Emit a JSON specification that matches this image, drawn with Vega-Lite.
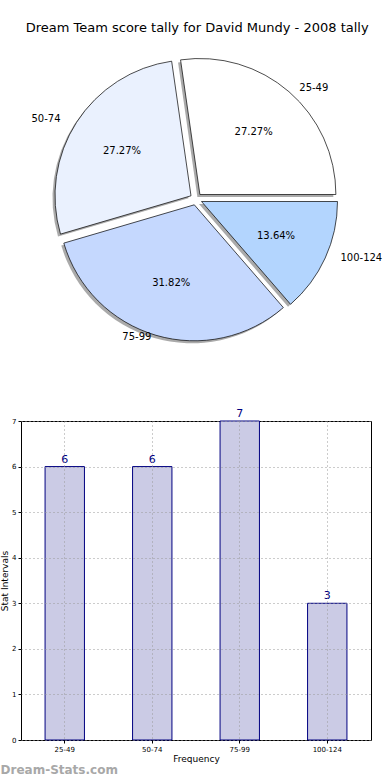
{
  "$schema": "https://vega.github.io/schema/vega-lite/v6.json",
  "padding": {"left": 0, "top": 22, "right": 0, "bottom": 0},
  "background": "white",
  "title": {"text": "Dream Team score tally for David Mundy - 2008 tally", "fontSize": 13, "font": "DejaVu Sans", "fontWeight": "normal", "anchor": "middle", "offset": 22, "dx": 6, "color": "black"},
  "config": {"font": "DejaVu Sans", "view": {"stroke": null}},
  "datasets": {
    "tally": [
      {"idx": 1, "range": "25-49", "count": 6, "pct": "27.27%"},
      {"idx": 2, "range": "50-74", "count": 6, "pct": "27.27%"},
      {"idx": 3, "range": "75-99", "count": 7, "pct": "31.82%"},
      {"idx": 4, "range": "100-124", "count": 3, "pct": "13.64%"}
    ]
  },
  "spacing": 60,
  "vconcat": [
    {
      "width": 350,
      "height": 280,
      "view": {"stroke": null},
      "data": {"name": "tally"},
      "transform": [
        {"stack": "count", "groupby": [], "sort": [{"field": "idx", "order": "descending"}], "as": ["t0", "t1"]}
      ],
      "layer": [
        {"transform": [{"filter": "datum.idx == 1"}],
         "mark": {"type": "arc", "outerRadius": 136, "xOffset": 1.4, "yOffset": -2, "fill": "#555555", "opacity": 0.5},
         "encoding": {"theta": {"field": "t0", "type": "quantitative", "scale": {"range": [1.5708, 7.854]}}, "theta2": {"field": "t1"}}},
        {"transform": [{"filter": "datum.idx == 2"}],
         "mark": {"type": "arc", "outerRadius": 136, "xOffset": -7.5, "yOffset": -0.7, "fill": "#555555", "opacity": 0.5},
         "encoding": {"theta": {"field": "t0", "type": "quantitative"}, "theta2": {"field": "t1"}}},
        {"transform": [{"filter": "datum.idx == 3"}],
         "mark": {"type": "arc", "outerRadius": 136, "xOffset": -4.2, "yOffset": 8.3, "fill": "#555555", "opacity": 0.5},
         "encoding": {"theta": {"field": "t0", "type": "quantitative"}, "theta2": {"field": "t1"}}},
        {"transform": [{"filter": "datum.idx == 4"}],
         "mark": {"type": "arc", "outerRadius": 136, "xOffset": 3.0, "yOffset": 5.0, "fill": "#555555", "opacity": 0.5},
         "encoding": {"theta": {"field": "t0", "type": "quantitative"}, "theta2": {"field": "t1"}}},
        {"transform": [{"filter": "datum.idx == 1"}],
         "mark": {"type": "arc", "outerRadius": 136, "xOffset": 3.9, "yOffset": -4.5, "fill": "#ffffff", "stroke": "black", "strokeWidth": 0.7},
         "encoding": {"theta": {"field": "t0", "type": "quantitative"}, "theta2": {"field": "t1"}}},
        {"transform": [{"filter": "datum.idx == 2"}],
         "mark": {"type": "arc", "outerRadius": 136, "xOffset": -5.0, "yOffset": -3.2, "fill": "#eaf1fe", "stroke": "black", "strokeWidth": 0.7},
         "encoding": {"theta": {"field": "t0", "type": "quantitative"}, "theta2": {"field": "t1"}}},
        {"transform": [{"filter": "datum.idx == 3"}],
         "mark": {"type": "arc", "outerRadius": 136, "xOffset": -1.7, "yOffset": 5.8, "fill": "#c5d8fe", "stroke": "black", "strokeWidth": 0.7},
         "encoding": {"theta": {"field": "t0", "type": "quantitative"}, "theta2": {"field": "t1"}}},
        {"transform": [{"filter": "datum.idx == 4"}],
         "mark": {"type": "arc", "outerRadius": 136, "xOffset": 5.5, "yOffset": 2.5, "fill": "#b3d5fe", "stroke": "black", "strokeWidth": 0.7},
         "encoding": {"theta": {"field": "t0", "type": "quantitative"}, "theta2": {"field": "t1"}}},
        {"mark": {"type": "text", "radius": 88, "fontSize": 10, "color": "black"},
         "encoding": {"theta": {"field": "count", "type": "quantitative", "stack": true},
                      "order": {"field": "idx", "type": "quantitative", "sort": "descending"},
                      "text": {"field": "pct"}}},
        {"mark": {"type": "text", "radius": 147, "dx": 7, "fontSize": 10, "color": "black", "align": "left"},
         "encoding": {"theta": {"field": "count", "type": "quantitative", "stack": true},
                      "order": {"field": "idx", "type": "quantitative", "sort": "descending"},
                      "text": {"condition": {"test": "datum.idx == 1", "field": "range"}, "value": ""}}},
        {"mark": {"type": "text", "radius": 150, "dx": 8, "dy": -3, "fontSize": 10, "color": "black", "align": "left"},
         "encoding": {"theta": {"field": "count", "type": "quantitative", "stack": true},
                      "order": {"field": "idx", "type": "quantitative", "sort": "descending"},
                      "text": {"condition": {"test": "datum.idx == 4", "field": "range"}, "value": ""}}},
        {"mark": {"type": "text", "radius": 148, "dx": -11, "fontSize": 10, "color": "black", "align": "right"},
         "encoding": {"theta": {"field": "count", "type": "quantitative", "stack": true},
                      "order": {"field": "idx", "type": "quantitative", "sort": "descending"},
                      "text": {"condition": {"test": "datum.idx == 2", "field": "range"}, "value": ""}}},
        {"mark": {"type": "text", "radius": 144, "dx": -4, "fontSize": 10, "color": "black", "align": "right"},
         "encoding": {"theta": {"field": "count", "type": "quantitative", "stack": true},
                      "order": {"field": "idx", "type": "quantitative", "sort": "descending"},
                      "text": {"condition": {"test": "datum.idx == 3", "field": "range"}, "value": ""}}}
      ]
    },
    {
      "width": 350,
      "height": 319,
      "data": {"name": "tally"},
      "title": {"text": "Dream-Stats.com", "orient": "bottom", "anchor": "start", "frame": "bounds", "fontSize": 12, "fontWeight": "bold", "color": "#a8a8a8", "offset": 2},
      "view": {"stroke": "black", "strokeWidth": 1},
      "encoding": {
        "x": {"field": "range", "type": "nominal", "sort": ["25-49", "50-74", "75-99", "100-124"],
          "scale": {"paddingInner": 0.55, "paddingOuter": 0.275},
          "axis": {"title": "Frequency", "labelAngle": 0, "grid": true, "gridDash": [1, 3], "gridColor": "#999999", "labelFontSize": 7, "labelColor": "black", "titleFontSize": 9, "titleFontWeight": "normal", "titleColor": "black", "domain": false, "tickSize": 3, "tickColor": "black", "labelPadding": 2, "titlePadding": 2, "zindex": 1}},
        "y": {"field": "count", "type": "quantitative", "scale": {"domain": [0, 7]},
          "axis": {"title": "Stat Intervals", "values": [0, 1, 2, 3, 4, 5, 6, 7], "grid": true, "gridDash": [1, 3], "gridColor": "#999999", "labelFontSize": 7, "labelColor": "black", "titleFontSize": 9, "titleFontWeight": "normal", "titleColor": "black", "domain": false, "tickSize": 3, "tickColor": "black", "labelPadding": 2, "titlePadding": 2, "zindex": 1}}
      },
      "layer": [
        {"mark": {"type": "bar", "fill": "#cbcbe5", "stroke": "#000080", "strokeWidth": 1}},
        {"mark": {"type": "text", "dy": -7, "fontSize": 11, "color": "#000080"}, "encoding": {"text": {"field": "count", "type": "quantitative"}}}
      ]
    }
  ]
}
